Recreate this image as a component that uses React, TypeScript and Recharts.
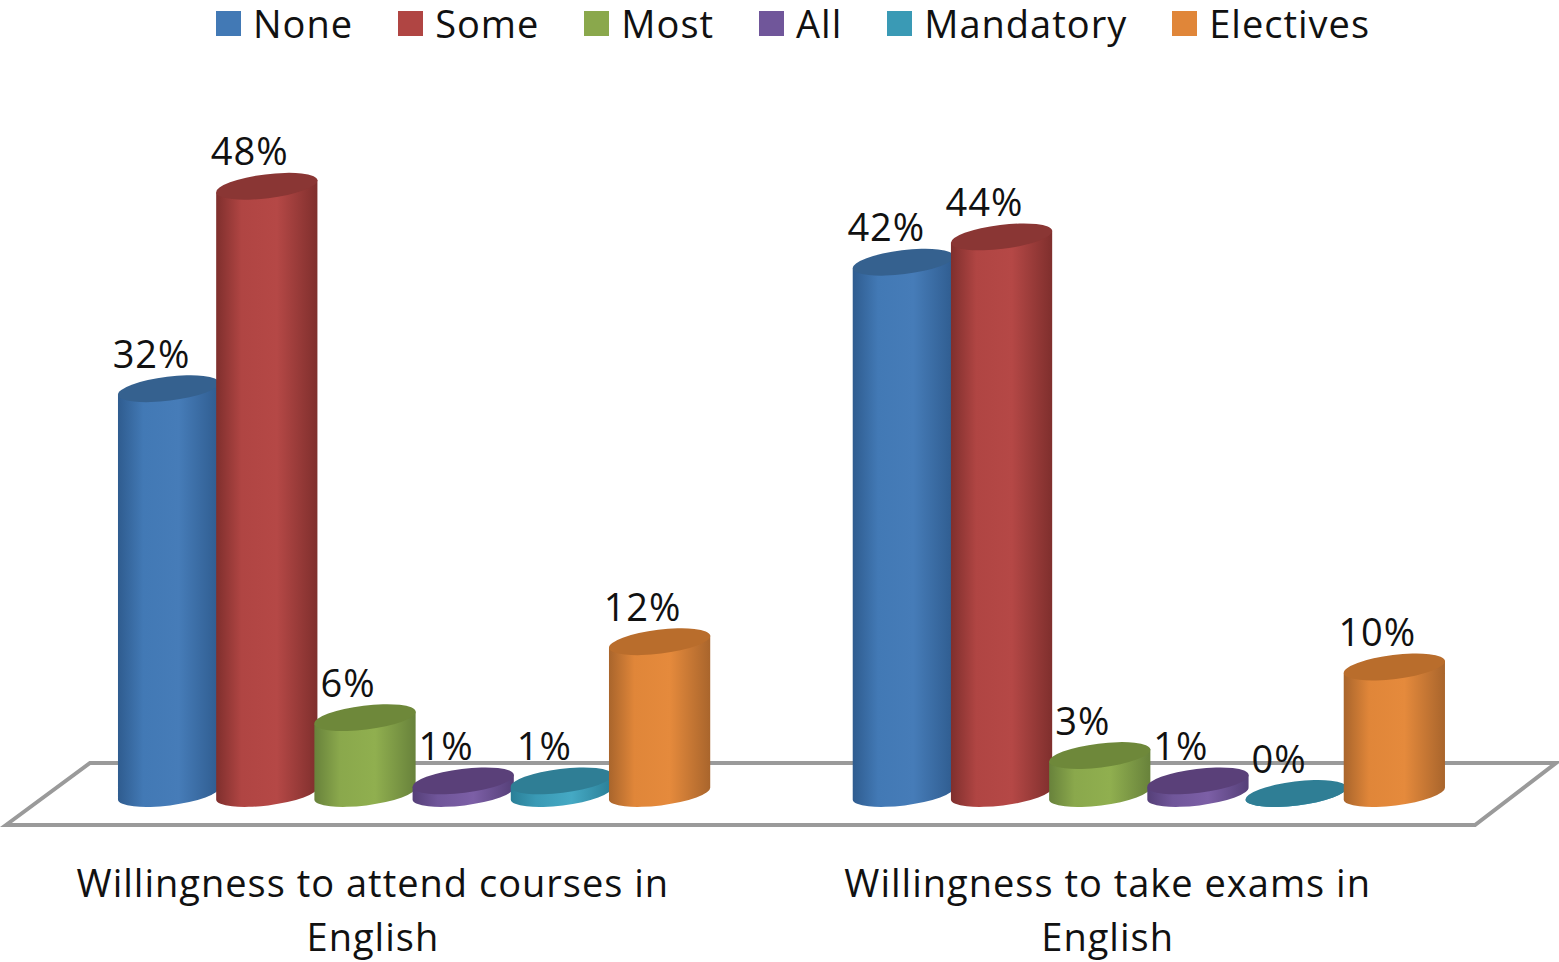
import React from 'react'
import { BarChart, Bar, XAxis, YAxis, Legend, LabelList } from 'recharts'

const categories = ['Willingness to attend courses in English', 'Willingness to take exams in English']
const categoryLines = [
  ['Willingness to attend courses in', 'English'],
  ['Willingness to take exams in', 'English']
]

const none = [32, 42]
const some = [48, 44]
const most = [6, 3]
const all = [1, 1]
const mandatory = [1, 0]
const electives = [12, 10]

const FONT = '"Open Sans", sans-serif'
const TEXT_SIZE = 38
const TEXT_SPACING = 1

// side: edge / centre of the cylinder wall, top: the darker cap
const series = [
  { key: 'None', values: none, color: '#4279b5', edge: '#2f5c8f', mid: '#467cb8', top: '#35618f' },
  { key: 'Some', values: some, color: '#b04543', edge: '#7f2f2d', mid: '#b54846', top: '#8a3634' },
  { key: 'Most', values: most, color: '#8aa84c', edge: '#68823b', mid: '#90af4f', top: '#6e883a' },
  { key: 'All', values: all, color: '#70569a', edge: '#553f78', mid: '#7c5fa6', top: '#5a4079' },
  { key: 'Mandatory', values: mandatory, color: '#3a9ab5', edge: '#2a7f97', mid: '#45a9c4', top: '#2f7e95' },
  { key: 'Electives', values: electives, color: '#e08639', edge: '#a9652c', mid: '#e58a3c', top: '#b96d2c' }
]

const rows = categories.map((name, i) => {
  const row: Record<string, string | number> = { name }
  series.forEach(s => { row[s.key] = s.values[i] })
  return row
})

const TILT = -7
const RX = 51
const RY = 12

function Cylinder(props: any) {
  const { x, y, width, height, spec } = props
  const cx = x + width / 2
  const dx = RX * Math.cos((TILT * Math.PI) / 180)
  const dy = RX * Math.sin((TILT * Math.PI) / 180)
  const bottom = y + height
  const wall =
    `M${cx - dx},${y - dy} L${cx - dx},${bottom - dy} ` +
    `A${RX},${RY} ${TILT} 0 0 ${cx + dx},${bottom + dy} ` +
    `L${cx + dx},${y + dy} Z`
  return (
    <g>
      <path d={wall} fill={`url(#wall-${spec.key})`} />
      <ellipse
        cx={cx}
        cy={y}
        rx={RX}
        ry={RY}
        fill={spec.top}
        transform={`rotate(${TILT} ${cx} ${y})`}
      />
    </g>
  )
}

// value labels sit up and to the left of the cap, following the 3D view
function ValueLabel(props: any) {
  const { x, y, width, value } = props
  return (
    <text
      x={x + width / 2 - 17}
      y={y - 36}
      textAnchor="middle"
      dominantBaseline="central"
      fontFamily={FONT}
      fontSize={TEXT_SIZE}
      letterSpacing={TEXT_SPACING}
      fill="#111"
    >
      {value}%
    </text>
  )
}

function CategoryTick(props: any) {
  const { x, payload } = props
  const lines = categoryLines[payload.index]
  return (
    <g>
      {lines.map((line, i) => (
        <text
          key={line}
          x={x - 41}
          y={882 + i * 54}
          textAnchor="middle"
          dominantBaseline="central"
          fontFamily={FONT}
          fontSize={TEXT_SIZE}
          letterSpacing={TEXT_SPACING}
          fill="#111"
        >
          {line}
        </text>
      ))}
    </g>
  )
}

function LegendRow({ payload }: any) {
  return (
    <div style={{ display: 'flex', alignItems: 'center', height: 46, paddingLeft: 216, fontFamily: FONT, fontSize: TEXT_SIZE, letterSpacing: TEXT_SPACING, color: '#111' }}>
      {payload.map((item: any) => (
        <div key={item.value} style={{ display: 'flex', alignItems: 'center', marginRight: 45 }}>
          <span style={{ width: 25, height: 25, background: item.color, marginRight: 12 }} />
          <span>{item.value}</span>
        </div>
      ))}
    </div>
  )
}

export default function App() {
  return (
    <div style={{ position: 'absolute', left: 0, top: 0, width: 1559, height: 962, background: '#fff' }}>
      <BarChart
        width={1559}
        height={962}
        data={rows}
        barGap={0}
        barSize={98.2}
        margin={{ top: 161, right: 43, bottom: 68.5, left: 46.5 }}
      >
        <defs>
          {series.map(s => (
            <linearGradient key={s.key} id={`wall-${s.key}`} x1="0" y1="0" x2="1" y2="0">
              <stop offset="0%" stopColor={s.edge} />
              <stop offset="25%" stopColor={s.color} />
              <stop offset="60%" stopColor={s.mid} />
              <stop offset="100%" stopColor={s.edge} />
            </linearGradient>
          ))}
        </defs>
        {/* floor of the 3D plot */}
        <polygon
          points="6,825 90,763 1556,763 1475,825"
          fill="#fff"
          stroke="#9a9a9a"
          strokeWidth={4}
        />
        <XAxis
          dataKey="name"
          height={100}
          axisLine={false}
          tickLine={false}
          interval={0}
          tick={<CategoryTick />}
        />
        <YAxis hide domain={[0, 50]} />
        <Legend
          verticalAlign="middle"
          itemSorter={null}
          wrapperStyle={{ top: 0, left: 0, width: 1559 }}
          content={<LegendRow />}
        />
        {series.map(s => (
          <Bar
            key={s.key}
            dataKey={s.key}
            fill={s.color}
            isAnimationActive={false}
            shape={(p: any) => <Cylinder {...p} spec={s} />}
          >
            <LabelList dataKey={s.key} content={<ValueLabel />} />
          </Bar>
        ))}
      </BarChart>
    </div>
  )
}
